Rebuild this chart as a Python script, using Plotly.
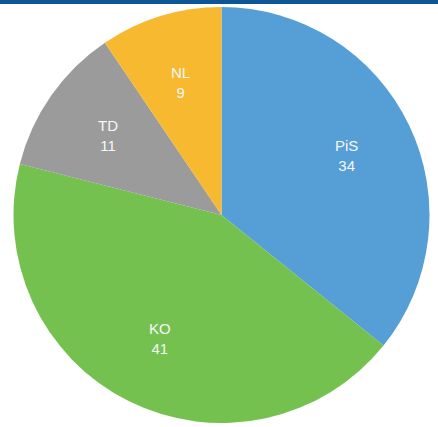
import math
import plotly.graph_objects as go

parties = ["PiS", "KO", "TD", "NL"]
seats = [34, 41, 11, 9]
colors = ["#559ed6", "#74c14f", "#9b9b9b", "#f6b92f"]

W, H = 438, 427
left, right, top, bottom = 13, 430, 7, 423
cx = (left + right) / 2
cy = (top + bottom) / 2
R = min(right - left, bottom - top) / 2

fig = go.Figure(go.Pie(
    labels=parties,
    values=seats,
    sort=False,
    direction="clockwise",
    rotation=0,
    marker=dict(colors=colors, line=dict(width=0)),
    textinfo="none",
    hoverinfo="label+value",
    showlegend=False,
    domain=dict(x=[left / W, right / W], y=[1 - bottom / H, 1 - top / H]),
))

total = sum(seats)
cum = 0
annotations = []
for p, v in zip(parties, seats):
    mid = (cum + v / 2) / total * 2 * math.pi
    cum += v
    px = cx + 0.665 * R * math.sin(mid)
    py = cy - 0.665 * R * math.cos(mid)
    annotations.append(dict(
        x=px / W, y=1 - py / H, xref="paper", yref="paper",
        text=f"{p}<br>{v}", showarrow=False,
        font=dict(family="Liberation Sans, Arial, sans-serif", size=15, color="#f7f7f7"),
        xanchor="center", yanchor="middle",
    ))

fig.update_layout(
    width=W, height=H,
    margin=dict(l=0, r=0, t=0, b=0),
    paper_bgcolor="white",
    plot_bgcolor="white",
    annotations=annotations,
    shapes=[dict(type="rect", xref="paper", yref="paper",
                 x0=0, x1=1, y0=1 - 4 / H, y1=1,
                 fillcolor="#0c5597", line=dict(width=0), layer="above")],
)

fig.write_html(
    "out.html",
    config={"displayModeBar": False},
    post_script="document.body.style.margin='0';document.body.style.overflow='hidden';",
)
